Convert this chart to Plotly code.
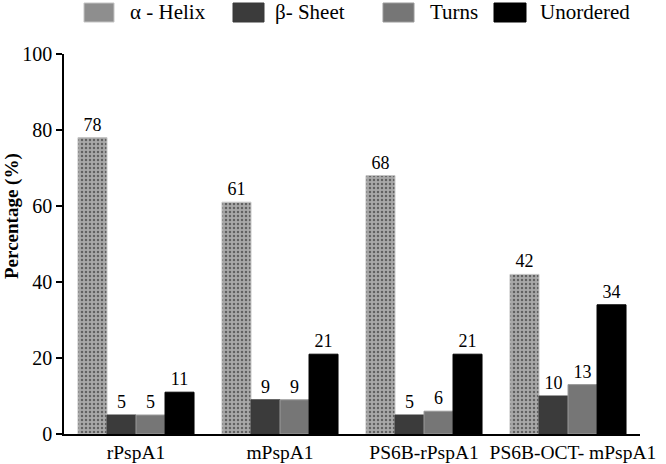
import plotly.graph_objects as go

categories = ["rPspA1", "mPspA1", "PS6B-rPspA1", "PS6B-OCT- mPspA1"]
tick_labels = ["rPspA1", "mPspA1", "PS6B-rPspA1", "\u00a0\u00a0PS6B-OCT- mPspA1"]
helix = [78, 61, 68, 42]
sheet = [5, 9, 5, 10]
turns = [5, 9, 6, 13]
unordered = [11, 21, 21, 34]
series_names = ["α - Helix", "β- Sheet", "Turns", "Unordered"]
series_colors = ["#a8a8a8", "#3b3b3b", "#767676", "#000000"]
series_edges = ["#c4c4c4", "#3b3b3b", "#9a9a9a", "#000000"]
series_values = [helix, sheet, turns, unordered]

FONT = "Liberation Serif, Times New Roman, serif"
W, H = 666, 464
ML, MR, MT, MB = 64, 26, 54, 30
PW, PH = W - ML - MR, H - MT - MB


def px(x):
    return (x - ML) / PW


def py(y):
    return (H - MB - y) / PH


fig = go.Figure()
for i, (name, vals, col, edge) in enumerate(zip(series_names, series_values, series_colors, series_edges)):
    marker = dict(color=col, line=dict(color=edge, width=1))
    if i == 0:
        marker["pattern"] = dict(shape=".", fgcolor="#1a1a1a", bgcolor=col,
                                 size=4, solidity=0.3, fillmode="overlay")
    fig.add_trace(go.Bar(
        x=categories, y=vals, name=name, marker=marker,
        text=[str(v) for v in vals], textposition="outside",
        textfont=dict(family=FONT, size=18, color="black"),
        cliponaxis=False, showlegend=False,
    ))

# manual legend (large swatches, as in the reference)
swatch_px = [(84, 114), (233, 264), (383, 414), (494, 526)]
text_px = [128, 273, 428, 538]
for (x0, x1), tx, name, col, edge in zip(swatch_px, text_px, series_names, series_colors, series_edges):
    fig.add_shape(type="rect", xref="paper", yref="paper",
                  x0=px(x0), x1=px(x1), y0=py(22), y1=py(3),
                  fillcolor="#8e8e8e" if name.startswith("α") else col,
                  line=dict(color=edge, width=1))
    fig.add_annotation(text=name, xref="paper", yref="paper", x=px(tx), y=py(12),
                       xanchor="left", yanchor="middle", showarrow=False,
                       font=dict(family=FONT, size=21, color="black"))

fig.add_annotation(text="<b>Percentage (%)</b>", xref="paper", yref="paper",
                   x=px(12), y=py(216), textangle=-90, showarrow=False,
                   xanchor="center", yanchor="middle",
                   font=dict(family=FONT, size=19, color="black"))

fig.update_layout(
    width=W, height=H,
    barmode="group", bargap=0.194, bargroupgap=0,
    plot_bgcolor="white", paper_bgcolor="white",
    margin=dict(l=ML, r=MR, t=MT, b=MB, autoexpand=False),
    font=dict(family=FONT, color="black"),
    showlegend=False,
)
fig.update_yaxes(
    range=[0, 100], tickvals=[0, 20, 40, 60, 80, 100],
    showline=True, linecolor="black", linewidth=1.5,
    ticks="outside", ticklen=6, tickcolor="black", tickwidth=1.5,
    showgrid=False, zeroline=False, automargin=False,
    tickfont=dict(size=20, family=FONT),
)
fig.update_xaxes(
    tickvals=categories, ticktext=tick_labels, tickangle=0,
    showline=True, linecolor="black", linewidth=1.5,
    ticks="", showgrid=False, automargin=False,
    tickfont=dict(size=19.5, family=FONT),
)

fig.write_html("out.html", config={"displayModeBar": False},
               post_script="document.body.style.margin='0';")
